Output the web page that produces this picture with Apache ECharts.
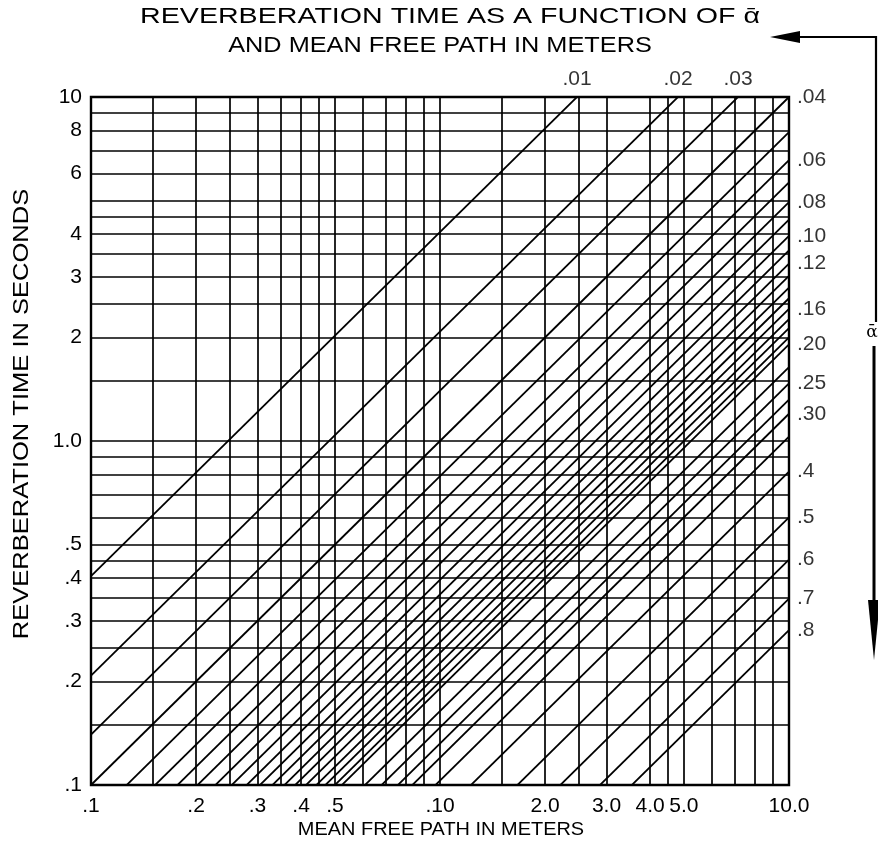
<!DOCTYPE html>
<html><head><meta charset="utf-8">
<script src="https://cdn.jsdelivr.net/npm/echarts@6.0.0/dist/echarts.min.js"></script>
<style>html,body{margin:0;padding:0;background:#fff}#c{width:878px;height:845px}</style>
</head><body><div id="c"></div>
<script>
// absorption coefficient of each diagonal line
const alphaValues = ['.01','.02','.03','.04','.05','.06','.07','.08','.09','.10','.11','.12','.13','.14','.15','.16','.17','.18','.19','.20','.225','.25','.275','.30','.35','.4','.5','.6','.7','.8'];
// reverberation time (s) of each line at a mean free path of 10 m (read at the right edge, extended past the top for the first lines)
const timeAt10m = [40.5, 20.8, 14.0, 10.0, 7.9, 6.55, 5.65, 4.95, 4.4, 3.95, 3.58, 3.28, 3.02, 2.79, 2.6, 2.42, 2.26, 2.13, 2.0, 1.91, 1.64, 1.47, 1.32, 1.2, 1.03, 0.815, 0.6, 0.452, 0.348, 0.282];
// lines that carry a printed alpha label
const labeledLines = ['.01','.02','.03','.04','.06','.08','.10','.12','.16','.20','.25','.30','.4','.5','.6','.7','.8'];
// grid rulings
const xGridValues = [0.15,0.2,0.25,0.3,0.35,0.4,0.45,0.5,0.6,0.7,0.8,0.9,1,1.5,2,2.5,3,4,4.5,5,6,7,8,9];
const yGridValues = [0.15,0.2,0.25,0.3,0.35,0.4,0.45,0.5,0.6,0.7,0.8,0.9,1,1.5,2,2.5,3,3.5,4,4.5,5,6,7,8,9];
// tick labels
const xTickValues = [0.1,0.2,0.3,0.4,0.5,1,2,3,4,5,10];
const xTickLabels = ['.1','.2','.3','.4','.5','.10','2.0','3.0','4.0','5.0','10.0'];
const yTickValues = [0.1,0.2,0.3,0.4,0.5,1,2,3,4,6,8,10];
const yTickLabels = ['.1','.2','.3','.4','.5','1.0','2','3','4','6','8','10'];
const mfpRange = [0.1, 10];
const timeRange = [0.1, 10];

const FONT = '"Liberation Sans", Arial, Helvetica, sans-serif';
function lookup(vals, labels, v) {
  for (let i = 0; i < vals.length; i++) {
    if (Math.abs(Math.log10(v) - Math.log10(vals[i])) < 1e-6) return labels[i];
  }
  return '';
}

const chart = echarts.init(document.getElementById('c'), null, {renderer: 'canvas'});
const series = [];
// grid rulings
series.push({
  type: 'line', data: [], silent: true, animation: false,
  markLine: {
    silent: true, animation: false, symbol: ['none', 'none'],
    label: {show: false},
    lineStyle: {color: '#000', width: 1.7, type: 'solid'},
    emphasis: {disabled: true},
    data: xGridValues.map(v => ({xAxis: v})).concat(yGridValues.map(v => ({yAxis: v})))
  }
});
// diagonal alpha lines
alphaValues.forEach((a, i) => {
  const t = timeAt10m[i];
  series.push({
    type: 'line', name: a, silent: true, animation: false, clip: true,
    symbol: 'none', z: 3,
    lineStyle: {color: '#000', width: 1.8},
    data: [[mfpRange[0], t * mfpRange[0] / 10], [mfpRange[1], t * mfpRange[1] / 10]]
  });
});
// labels at the line ends
const rightLabels = [], topLabels = [];
alphaValues.forEach((a, i) => {
  if (labeledLines.indexOf(a) < 0) return;
  const t = timeAt10m[i];
  if (t > timeRange[1] + 1e-9) topLabels.push({value: [timeRange[1] * 10 / t, timeRange[1]], name: a});
  else rightLabels.push({value: [mfpRange[1], t], name: a});
});
series.push({
  type: 'scatter', symbolSize: 0, silent: true, animation: false, clip: false, z: 5,
  data: rightLabels,
  label: {show: true, position: 'right', distance: 8, formatter: p => p.name, color: '#000', fontFamily: FONT, fontSize: 21}
});
series.push({
  type: 'scatter', symbolSize: 0, silent: true, animation: false, clip: false, z: 5,
  data: topLabels,
  label: {show: true, position: 'top', distance: 7, formatter: p => p.name, color: '#000', fontFamily: FONT, fontSize: 21}
});

const option = {
  backgroundColor: '#fff',
  animation: false,
  grid: {left: 91, top: 97, width: 698, height: 688, show: true, borderColor: '#000', borderWidth: 2.4, backgroundColor: 'transparent', containLabel: false},
  xAxis: {
    type: 'log', logBase: 10, min: mfpRange[0], max: mfpRange[1],
    axisLine: {show: false}, axisTick: {show: false}, splitLine: {show: false},
    axisLabel: {customValues: xTickValues, formatter: v => lookup(xTickValues, xTickLabels, v), color: '#000', fontFamily: FONT, fontSize: 21, margin: 11, hideOverlap: false}
  },
  yAxis: {
    type: 'log', logBase: 10, min: timeRange[0], max: timeRange[1],
    axisLine: {show: false}, axisTick: {show: false}, splitLine: {show: false},
    axisLabel: {customValues: yTickValues, formatter: v => lookup(yTickValues, yTickLabels, v), color: '#000', fontFamily: FONT, fontSize: 21, margin: 9, hideOverlap: false}
  },
  series: series,
  graphic: [
    {type: 'text', x: 450, y: 17, scaleX: 1.3, style: {text: 'REVERBERATION TIME AS A FUNCTION OF \u1FB1', fill: '#000', font: '22px ' + FONT, align: 'center', verticalAlign: 'middle'}},
    {type: 'text', x: 440, y: 46, scaleX: 1.15, style: {text: 'AND MEAN FREE PATH IN METERS', fill: '#000', font: '22px ' + FONT, align: 'center', verticalAlign: 'middle'}},
    {type: 'text', x: 441, y: 830, scaleX: 1.05, style: {text: 'MEAN FREE PATH IN METERS', fill: '#000', font: '19px ' + FONT, align: 'center', verticalAlign: 'middle'}},
    {type: 'text', x: 22, y: 414, rotation: Math.PI / 2, scaleX: 1.16, style: {text: 'REVERBERATION TIME IN SECONDS', fill: '#000', font: '22px ' + FONT, align: 'center', verticalAlign: 'middle'}},
    {type: 'polyline', shape: {points: [[876, 322], [876, 37], [792, 37]]}, style: {stroke: '#000', lineWidth: 2.2, fill: null}},
    {type: 'polygon', shape: {points: [[770, 37], [800, 31], [800, 43]]}, style: {fill: '#000'}},
    {type: 'text', x: 872, y: 333, style: {text: '\u1FB1', fill: '#000', font: '17px "DejaVu Serif", serif', align: 'center', verticalAlign: 'middle'}},
    {type: 'line', shape: {x1: 874, y1: 346, x2: 874, y2: 615}, style: {stroke: '#000', lineWidth: 3}},
    {type: 'polygon', shape: {points: [[874, 660], [868, 600], [880, 600]]}, style: {fill: '#000'}}
  ]
};
chart.setOption(option);
</script></body></html>
